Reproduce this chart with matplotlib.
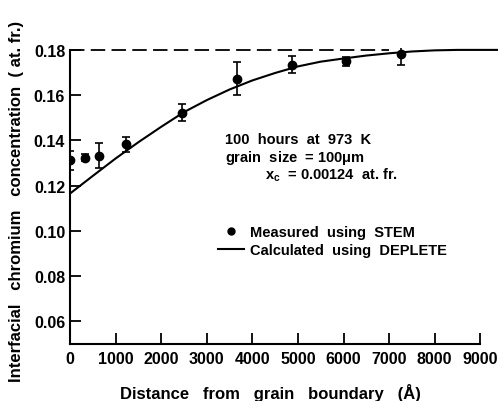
import numpy as np
import matplotlib.pyplot as plt
from matplotlib.lines import Line2D

plt.rcParams['font.family'] = ['Liberation Sans', 'DejaVu Sans']
plt.rcParams['font.weight'] = 'bold'
plt.rcParams['mathtext.default'] = 'regular'

# STEM measurements: distance (Å), Cr fraction, error half-width
dist = [0, 330, 630, 1220, 2455, 3660, 4870, 6045, 7260]
conc = [0.1312, 0.1324, 0.1333, 0.1382, 0.1523, 0.1673, 0.1734, 0.1749, 0.1782]
err = [0.0042, 0.0015, 0.0056, 0.0035, 0.0037, 0.0073, 0.0038, 0.0020, 0.0048]

# DEPLETE profile
calc_x = [0, 500, 1000, 1500, 2000, 2500, 3000, 3500, 4000, 4500, 5000,
          5500, 6000, 6500, 7000, 7500, 8000, 8500, 9400]
calc_y = [0.1165, 0.1243, 0.1320, 0.1392, 0.1460, 0.1525, 0.1578, 0.1625,
          0.1665, 0.1698, 0.1727, 0.1748, 0.1762, 0.1775, 0.1785, 0.1793,
          0.1798, 0.1800, 0.1800]

bulk = 0.18
xticks = [0, 1000, 2000, 3000, 4000, 5000, 6000, 7000, 8000, 9000]
yticks = [0.06, 0.08, 0.10, 0.12, 0.14, 0.16, 0.18]

fig = plt.figure(figsize=(5.04, 4.02), dpi=100)
ax = fig.add_axes([0.139, 0.142, 0.850, 0.737])

ax.plot(calc_x, calc_y, 'k-', lw=1.5)
ax.plot([0, 7000], [bulk, bulk], 'k--', lw=1.3, dashes=(8, 3.5))
ax.errorbar(dist, conc, yerr=err, fmt='o', color='k', ms=6, lw=1.2,
            capsize=3, capthick=1.2)

ax.set_xlim(0, 9400)
ax.set_ylim(0.05, 0.181)
ax.set_xticks(xticks)
ax.set_yticks(yticks)
ax.set_xticklabels([str(v) for v in xticks])
ax.set_yticklabels(['0.06', '0.08', '0.10', '0.12', '0.14', '0.16', '0.18'])
ax.tick_params(direction='in', length=8, width=1.3, labelsize=11.5)
ax.tick_params(axis='x', pad=5)
ax.tick_params(axis='y', pad=3.5)
ax.spines['top'].set_visible(False)
ax.spines['right'].set_visible(False)
ax.spines['left'].set_bounds(0.05, 0.18)
ax.spines['bottom'].set_bounds(0, 9000)
for s in ('left', 'bottom'):
    ax.spines[s].set_linewidth(1.5)

fig.text(0.536, 0.022, 'Distance   from   grain   boundary   (Å)',
         ha='center', va='center', fontsize=12)
fig.text(0.032, 0.5, 'Interfacial   chromium   concentration  ( at. fr.)',
         rotation=90, ha='center', va='center', fontsize=12)

ax.text(0.362, 0.692, '100  hours  at  973  K', transform=ax.transAxes,
        fontsize=10.5, va='center')
ax.text(0.362, 0.631, 'grain  size  = 100$\\mu$m', transform=ax.transAxes,
        fontsize=10.5, va='center')
ax.text(0.455, 0.574, '$x_c$  = 0.00124  at. fr.',
        transform=ax.transAxes, fontsize=10.5, va='center')

handles = [Line2D([], [], ls='none', marker='o', color='k', ms=5),
           Line2D([], [], color='k', lw=1.5)]
ax.legend(handles, ['Measured  using  STEM', 'Calculated  using  DEPLETE'],
          loc='center left', bbox_to_anchor=(0.345, 0.348), frameon=False,
          prop={'size': 10.5, 'weight': 'bold'}, handlelength=1.76,
          handletextpad=0.46, labelspacing=0.3, borderpad=0, borderaxespad=0)

plt.savefig('out.png', dpi=100)
